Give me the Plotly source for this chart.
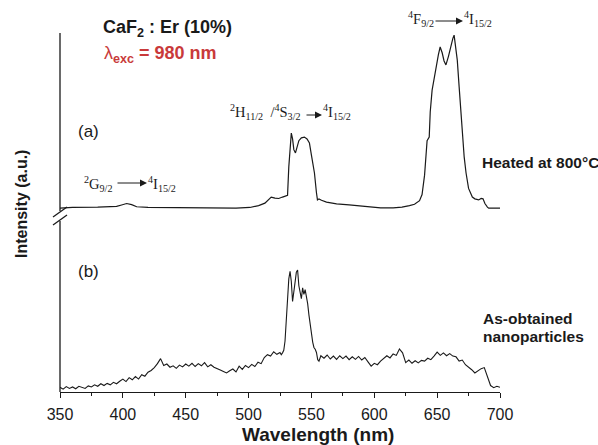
import plotly.graph_objects as go

# ---------------- data ----------------
# (a) heated at 800 °C (offset spectrum)
wl_a = [350, 360, 380, 395, 399, 403, 407, 411, 420, 440,
        460, 490, 501, 508, 513, 516, 518, 521, 524, 527,
        529, 531, 532, 533, 534, 535, 536, 537.3, 538.5, 540,
        542, 544.4, 546.5, 548.4, 550, 552.4, 554, 554.8, 556, 558,
        562, 570, 580, 590, 596, 605, 615, 622, 628, 632,
        636, 638, 640, 642, 643.7, 644.5, 646, 648, 649, 651,
        652.4, 654, 655.5, 657, 659, 661, 662.5, 663.5, 665, 666,
        667.5, 669, 670, 671.5, 673, 675, 678, 680, 683, 685,
        686.5, 688, 690, 691, 700]
int_a = [51.2, 51.4, 51.5, 51.7, 52.1, 52.5, 52.2, 51.6, 51.4, 51.3,
         51.2, 51.2, 51.4, 51.9, 52.6, 53.8, 54.3, 54.0, 53.9, 54.3,
         54.6, 54.8, 62.7, 69.0, 72.1, 70.5, 67.5, 66.6, 68.5, 70.0,
         70.8, 71.0, 70.5, 69.4, 66.0, 61.0, 55.5, 53.5, 53.8, 53.4,
         52.9, 52.4, 52.1, 51.7, 51.5, 51.3, 51.3, 51.5, 51.9, 52.3,
         53.3, 55.0, 60.4, 70.0, 71.0, 78.0, 84.1, 88.0, 91.1, 94.0,
         96.1, 94.5, 92.2, 91.1, 93.5, 96.7, 98.5, 99.4, 96.0, 92.5,
         85.0, 77.0, 71.0, 65.5, 61.0, 56.7, 54.3, 53.8, 53.5, 53.9,
         53.8, 52.5, 51.5, 51.2, 51.2]

# (b) as-obtained nanoparticles (noisy spectrum)
wl_b = [350, 352.5, 355, 357.5, 360, 362.5, 365, 367.5, 370, 372.5,
        375, 377.5, 380, 382.5, 385, 387.5, 390, 392.5, 395, 397.5,
        400, 402.5, 405, 407.5, 410, 412.5, 415, 417.5, 420, 422.5,
        425, 427.5, 430, 432.5, 435, 437.5, 440, 442.5, 445, 447.5,
        450, 452.5, 455, 457.5, 460, 462.5, 465, 467.5, 470, 472.5,
        475, 477.5, 480, 482.5, 485, 487.5, 490, 492.5, 495, 497.5,
        500, 502.5, 505, 507.5, 510, 512.5, 515, 517.5, 520, 522.5,
        525, 526, 527, 528, 529, 530, 531, 532, 533, 534,
        535, 536, 537, 538, 539, 540, 541, 542, 543, 544,
        545, 546, 547, 548, 549, 550, 551, 552, 553, 554,
        555, 556, 557.5, 560, 562.5, 565, 567.5, 570, 572.5, 575,
        577.5, 580, 582.5, 585, 587.5, 590, 592.5, 595, 597.5, 600,
        602.5, 605, 607.5, 610, 612.5, 615, 617.5, 620, 622.5, 625,
        627.5, 630, 632.5, 635, 637.5, 640, 642.5, 645, 647.5, 650,
        652.5, 655, 657.5, 660, 662.5, 665, 667.5, 670, 672.5, 675,
        677.5, 680, 682.5, 685, 687.5, 690, 692.5, 695, 697.5, 700]
int_b = [1.3, 0.8, 1.5, 1.0, 1.4, 0.9, 1.6, 1.2, 1.0, 1.7,
         1.4, 2.0, 1.6, 2.3, 1.8, 2.4, 2.0, 2.7, 2.3, 3.0,
         3.6, 2.9, 4.0, 3.4, 4.3, 3.6, 4.8, 4.4, 5.5, 6.0,
         6.8, 7.9, 9.3, 7.4, 7.8, 6.9, 7.3, 6.6, 7.5, 7.0,
         7.8, 7.2, 8.0, 7.1, 7.9, 7.3, 8.2, 7.0, 7.6, 6.9,
         6.6, 6.1, 5.7, 5.3, 5.9, 6.4, 5.6, 7.2, 6.3, 7.4,
         6.8, 7.7, 7.1, 8.3, 7.9, 9.6, 10.4, 10.0, 11.2, 10.5,
         11.0, 10.4, 10.9, 11.6, 14.2, 21.0, 28.4, 31.5, 33.6, 30.8,
         25.2, 29.0, 30.6, 33.4, 34.0, 29.6, 28.2, 26.0, 29.0, 27.2,
         28.5, 27.0, 24.6, 21.5, 18.6, 15.6, 13.9, 12.4, 11.9, 11.0,
         9.0, 8.6, 10.1, 9.4, 10.3, 9.2, 10.0, 9.1, 10.1, 9.3,
         10.0, 9.0, 9.8, 9.1, 9.9, 8.9, 9.6, 8.4, 7.2, 8.0,
         7.6, 8.6, 9.4, 10.1, 9.5, 10.6, 10.2, 12.0, 10.9, 8.2,
         8.9, 8.0, 8.7, 8.1, 8.8, 8.6, 9.4, 9.0, 10.0, 11.1,
         10.2, 10.9, 10.1, 10.7, 10.0, 9.8, 8.6, 8.9, 7.6, 7.0,
         6.2, 5.3, 5.9, 6.5, 6.8, 4.0, 1.8, 1.2, 1.6, 1.3]

x_ticks = [350, 400, 450, 500, 550, 600, 650, 700]

# ---------------- layout helpers ----------------
W, H = 598, 445
L, R, T, B = 60, 98, 33, 53
PW, PH = W - L - R, H - T - B


def X(px):
    return (px - L) / PW


def Y(py):
    return (H - B - py) / PH


SANS = "Liberation Sans, Arial, sans-serif"
SERIF = "Liberation Serif, Times New Roman, serif"
INK = "#1a1a1a"

fig = go.Figure()
fig.add_trace(go.Scatter(x=wl_a, y=int_a, mode="lines",
                         line=dict(color=INK, width=1.2), showlegend=False))
fig.add_trace(go.Scatter(x=wl_b, y=int_b, mode="lines",
                         line=dict(color=INK, width=1.1), showlegend=False))

fig.update_layout(
    width=W, height=H,
    margin=dict(l=L, r=R, t=T, b=B),
    paper_bgcolor="white", plot_bgcolor="white",
    xaxis=dict(range=[350, 700], showgrid=False, zeroline=False,
               showline=True, linecolor=INK, linewidth=1.3,
               ticks="outside", ticklen=5, tickwidth=1.3, tickcolor=INK,
               tickvals=x_ticks, ticktext=[str(v) for v in x_ticks],
               tickfont=dict(family=SANS, size=16, color=INK),
               ticklabelstandoff=3,
               minor=dict(dtick=25, ticks="outside", ticklen=3,
                          tickwidth=1.2, tickcolor=INK)),
    yaxis=dict(range=[0, 100], visible=False),
)

# y axis with break
shapes = [
    dict(type="line", xref="paper", yref="paper", x0=0, x1=0, y0=0, y1=Y(221),
         line=dict(color=INK, width=1.3)),
    dict(type="line", xref="paper", yref="paper", x0=0, x1=0, y0=Y(211), y1=1,
         line=dict(color=INK, width=1.3)),
    dict(type="line", xref="paper", yref="paper", x0=X(53), x1=X(67),
         y0=Y(217), y1=Y(207), line=dict(color=INK, width=1.3)),
    dict(type="line", xref="paper", yref="paper", x0=X(53), x1=X(67),
         y0=Y(225), y1=Y(215), line=dict(color=INK, width=1.3)),
]
fig.update_layout(shapes=shapes)

ann = []


def txt(text, px, py, size, family=SANS, color=INK, xanchor="left", angle=0):
    ann.append(dict(text=text, x=X(px), y=Y(py), xref="paper", yref="paper",
                    xanchor=xanchor, yanchor="middle", showarrow=False,
                    textangle=angle,
                    font=dict(family=family, size=size, color=color)))


def arrow(px0, px1, py):
    ann.append(dict(text="", x=X(px1), y=Y(py), xref="paper", yref="paper",
                    ax=px0 - px1, ay=0, showarrow=True, arrowhead=2,
                    arrowsize=1.4, arrowwidth=1, arrowcolor=INK,
                    standoff=0, startstandoff=0))


# header
txt("<b>CaF<sub>2</sub> : Er (10%)</b>", 101, 29, 18)
txt("λ<sub><b>exc</b></sub><b> = 980 nm</b>", 102, 55, 18, color="#c93a3a")

# panel labels
txt("(a)", 76, 131, 17)
txt("(b)", 76, 271, 17)

# sample labels
txt("<b>Heated at 800°C</b>", 480, 162, 15.5)
txt("<b>As-obtained</b>", 481, 318, 15.5)
txt("<b>nanoparticles</b>", 481, 336, 15.5)

# transitions
TS = 14.5
txt("<sup>2</sup>G<sub>9/2</sub>", 82, 184, TS, family=SERIF)
arrow(116, 147, 183)
txt("<sup>4</sup>I<sub>15/2</sub>", 146, 184, TS, family=SERIF)

txt("<sup>2</sup>H<sub>11/2</sub>&nbsp;&nbsp;/<sup>4</sup>S<sub>3/2</sub>", 228, 112, TS, family=SERIF)
arrow(305, 322, 115)
txt("<sup>4</sup>I<sub>15/2</sub>", 321, 112, TS, family=SERIF)

txt("<sup>4</sup>F<sub>9/2</sub>", 406, 19, TS, family=SERIF)
arrow(434, 463, 21)
txt("<sup>4</sup>I<sub>15/2</sub>", 462, 19, TS, family=SERIF)

# axis titles
txt("<b>Wavelength (nm)</b>", 318, 434, 19, xanchor="center")
txt("<b>Intensity (a.u.)</b>", 21, 204, 16, xanchor="center", angle=-90)

fig.update_layout(annotations=ann)

fig.write_html("out.html")
